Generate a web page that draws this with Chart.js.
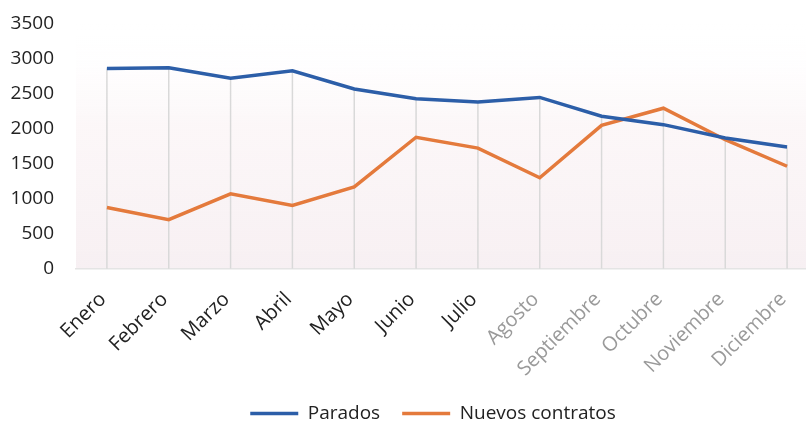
<!DOCTYPE html>
<html><head><meta charset="utf-8">
<script src="https://cdn.jsdelivr.net/npm/chart.js@4"></script>
<style>
html,body{margin:0;padding:0;background:#fff;overflow:hidden;}
#wrap{width:840px;height:425px;position:relative;}
</style></head>
<body><div id="wrap"><canvas id="c"></canvas></div>
<script>
const months = ["Enero","Febrero","Marzo","Abril","Mayo","Junio","Julio","Agosto","Septiembre","Octubre","Noviembre","Diciembre"];
const parados = [2865,2875,2725,2830,2570,2430,2385,2450,2180,2060,1870,1740];
const nuevosContratos = [875,700,1070,905,1170,1880,1725,1300,2050,2295,1845,1465];
const yTicks = [0,500,1000,1500,2000,2500,3000,3500];

const dropLines = {
  id:'dropLines',
  beforeDatasetsDraw(chart){
    const ctx = chart.ctx, area = chart.chartArea;
    const metas = chart.data.datasets.map((d,i)=>chart.getDatasetMeta(i));
    ctx.save();
    ctx.strokeStyle = '#d9d9d9';
    ctx.lineWidth = 1.5;
    for(let i=0;i<chart.data.labels.length;i++){
      let top = Infinity, x = null;
      metas.forEach(m=>{const p=m.data[i]; if(p){top=Math.min(top,p.y); x=p.x;}});
      ctx.beginPath(); ctx.moveTo(x, top); ctx.lineTo(x, area.bottom); ctx.stroke();
    }
    ctx.restore();
  }
};
const tint = {
  id:'tint',
  beforeDraw(chart){
    const ctx=chart.ctx, a=chart.chartArea;
    const g=ctx.createLinearGradient(0,a.top,0,a.bottom);
    g.addColorStop(0,'rgba(255,255,255,0)');
    g.addColorStop(0.4,'rgba(250,242,244,0.6)');
    g.addColorStop(1,'rgba(246,238,241,0.9)');
    ctx.save(); ctx.fillStyle=g; ctx.fillRect(a.left,a.top,a.right-a.left,a.bottom-a.top); ctx.restore();
  }
};
const legendShift = {
  id:'legendShift',
  afterLayout(chart){
    if(chart.legend){ chart.legend.left += 19; chart.legend.right += 19; }
  }
};

new Chart(document.getElementById('c'), {
  type:'line',
  data:{
    labels: months,
    datasets:[
      {label:'Parados', data:parados, borderColor:'#2c5ea8', backgroundColor:'#2c5ea8', borderWidth:3.5, pointRadius:0, tension:0},
      {label:'Nuevos contratos', data:nuevosContratos, borderColor:'#e47a3c', backgroundColor:'#e47a3c', borderWidth:3.5, pointRadius:0, tension:0}
    ]
  },
  options:{
    responsive:true, maintainAspectRatio:false, animation:false,
    layout:{padding:{left:10,right:22,top:0,bottom:-8}},
    plugins:{
      legend:{position:'bottom', labels:{usePointStyle:true, pointStyle:'line', pointStyleWidth:48, padding:22, color:'#222', font:{family:'Open Sans', size:19}}},
      tooltip:{enabled:false}
    },
    scales:{
      x:{
        offset:true,
        grid:{display:false, offset:false},
        border:{display:true, color:'#e4e4e4', width:1.5},
        ticks:{minRotation:45, maxRotation:45, padding:11, labelOffset:-4, font:{family:'Open Sans', size:20},
          color:(c)=>c.index>=7?'#9a9a9a':'#222'},
        afterFit(s){ s.paddingLeft = 0; s.paddingRight = 0; s.height -= 10; }
      },
      y:{
        min:0, max:3500,
        afterBuildTicks(s){ s.ticks = yTicks.map(v=>({value:v})); },
        grid:{display:false},
        border:{display:false},
        ticks:{padding:14, color:'#222', font:{family:'Open Sans', size:19}, callback:(v)=>String(v)},
        afterFit(s){ s.width = 66; s.paddingTop = 24; s.paddingBottom = 0; }
      }
    }
  },
  plugins:[tint, dropLines, legendShift]
});
</script></body></html>
